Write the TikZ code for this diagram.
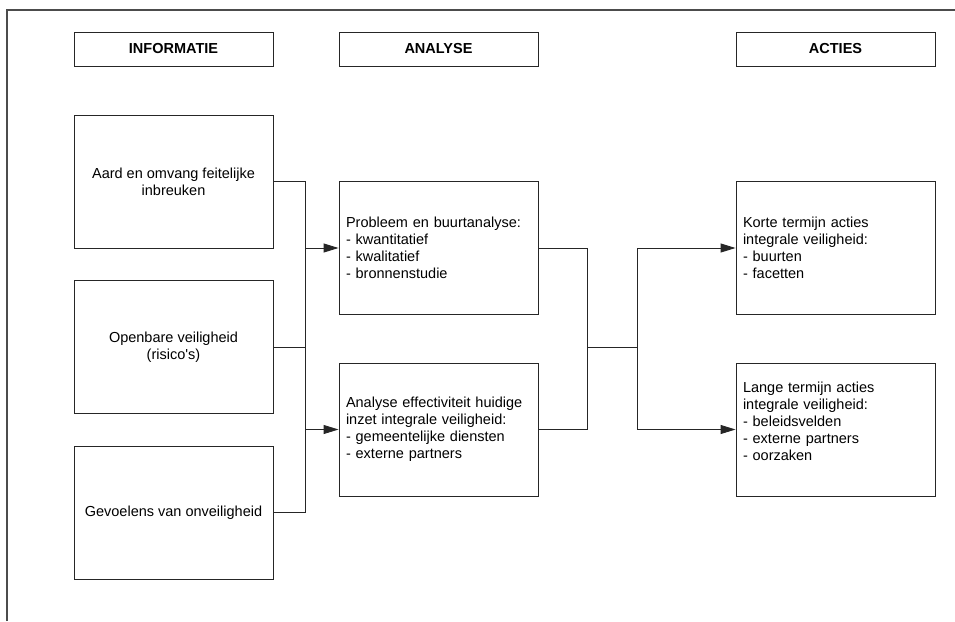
\documentclass[tikz,border=0pt]{standalone}
\usepackage{fontspec}
\setmainfont{Liberation Sans}
\usetikzlibrary{arrows.meta}

\begin{document}
\begin{tikzpicture}[x=1pt,y=-1pt,
  every node/.style={font=\fontsize{14.5}{17}\selectfont},
  box/.style={draw=black!85, line width=0.9pt, rectangle, minimum width=199pt,
              minimum height=133pt, inner sep=0pt},
  headbox/.style={draw=black!85, line width=0.9pt, rectangle, minimum width=199pt,
              minimum height=34pt, inner sep=0pt, font=\fontsize{14.5}{17}\selectfont\bfseries},
  infobox/.style={box, align=center},
  listbox/.style={box, align=left, text width=185pt, inner xsep=7pt},
  link/.style={draw=black!85, line width=0.9pt},
  arrowlink/.style={link, -{Triangle[length=15pt,width=9pt]}}
]
\useasboundingbox (0,0) rectangle (955,621);

% page frame
\draw[black!70, line width=1.5pt] (7,621) -- (7,10) -- (955,10);

% column headers
\node[headbox] (hInfo) at (173.5,49) {INFORMATIE};
\node[headbox] (hAna)  at (438.5,49) {ANALYSE};
\node[headbox] (hAct)  at (835.5,49) {ACTIES};

% information sources
\node[infobox] (i1) at (173.5,181.5) {Aard en omvang feitelijke\\inbreuken};
\node[infobox] (i2) at (173.5,347)   {Openbare veiligheid\\(risico\textquotesingle s)};
\node[infobox] (i3) at (173.5,512.5) {Gevoelens van onveiligheid};

% analyses
\node[listbox] (a1) at (438.5,248) {Probleem en buurtanalyse:\\- kwantitatief\\- kwalitatief\\- bronnenstudie};
\node[listbox] (a2) at (438.5,429.5) {Analyse effectiviteit huidige\\inzet integrale veiligheid:\\- gemeentelijke diensten\\- externe partners};

% actions
\node[listbox] (r1) at (835.5,248) {Korte termijn acties\\integrale veiligheid:\\- buurten\\- facetten};
\node[listbox] (r2) at (835.5,429.5) {Lange termijn acties\\integrale veiligheid:\\- beleidsvelden\\- externe partners\\- oorzaken\\\mbox{}};

% junction points
\coordinate (jL1) at (305,248);
\coordinate (jL2) at (305,429.5);
\coordinate (jM)  at (587,347);
\coordinate (jR)  at (637,347);
\coordinate (jR1) at (637,248);
\coordinate (jR2) at (637,429.5);

% information -> analysis
\draw[link] (i1.east) -| (305,347);
\draw[link] (i3.east) -| (305,347);
\draw[link] (i2.east) -- (305,347);
\draw[arrowlink] (jL1) -- (a1.west);
\draw[arrowlink] (jL2) -- (a2.west);

% analysis -> actions
\draw[link] (a1.east) -| (jM);
\draw[link] (a2.east) -| (jM);
\draw[link] (jM) -- (jR);
\draw[link] (jR1) -- (jR2);
\draw[arrowlink] (jR1) -- (r1.west);
\draw[arrowlink] (jR2) -- (r2.west);
\end{tikzpicture}
\end{document}
